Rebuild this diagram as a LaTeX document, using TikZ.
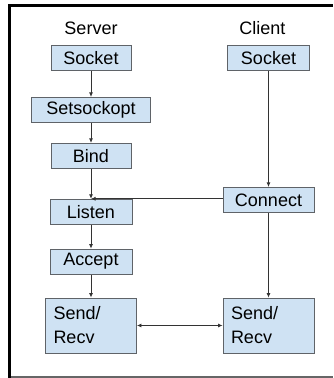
\documentclass[tikz,border=0pt]{standalone}
\usepackage{fontspec}
\setmainfont{Liberation Sans}
\usetikzlibrary{positioning, arrows.meta}

\definecolor{boxfill}{HTML}{CFE2F3}
\definecolor{boxline}{HTML}{5F6368}
\definecolor{arrline}{HTML}{333333}

\begin{document}
\begin{tikzpicture}[x=1pt, y=1pt,
  step box/.style={draw=boxline, fill=boxfill, line width=0.9pt, inner sep=0pt,
                minimum height=25pt, font=\fontsize{18}{22}\selectfont},
  io box/.style={step box, minimum width=91pt, minimum height=55pt, text width=75pt,
                align=left, font=\fontsize{18}{24}\selectfont},
  head/.style={font=\fontsize{18}{22}\selectfont, inner sep=0pt},
  arr/.style={-{Latex[length=4.5pt, width=4pt]}, line width=0.8pt, color=arrline},
]
\useasboundingbox (0,0) rectangle (333,-378);

% Frame
\draw[line width=3pt] (8,-5.5) -- (333,-5.5);
\draw[line width=3pt] (9.5,-4) -- (9.5,-378);
\draw[line width=1.2pt, color=black!60] (11,-377) -- (333,-377);

% Server column
\node[step box, minimum width=80pt] (sSocket) at (91,-58) {Socket};
\node[step box, minimum width=119pt, below=26pt of sSocket] (sSetsock) {Setsockopt};
\node[step box, minimum width=80pt, below=20pt of sSetsock] (sBind) {Bind};
\node[step box, minimum width=82pt, below=30pt of sBind] (sListen) {Listen};
\node[step box, minimum width=82pt, below=24pt of sListen] (sAccept) {Accept};
\node[io box, below=23pt of sAccept] (sSend) {Send/\\Recv};

% Client column
\node[step box, minimum width=82pt] (cSocket) at (268.5,-58) {Socket};
\node[step box, minimum width=91pt, below=116pt of cSocket] (cConnect) {Connect};
\node[io box] (cSend) at (cConnect |- sSend) {Send/\\Recv};

% Headings
\node[head] (srvHead) at (91,-28) {Server};
\node[head] (cliHead) at (262.5,-28) {Client};

% Arrows
\draw[arr] (sSocket) -- (sSetsock);
\draw[arr] (sSetsock) -- (sBind);
\draw[arr] (sBind) -- (sListen);
\draw[arr] (sListen) -- (sAccept);
\draw[arr] (sAccept) -- (sSend);
\draw[arr] (cSocket) -- (cConnect);
\draw[arr] (cConnect) -- (cSend);
\draw[arr] (cConnect.west |- sListen.north) -- (sListen.north);
\draw[arr, {Latex[length=4.5pt, width=4pt]}-{Latex[length=4.5pt, width=4pt]}] (sSend) -- (cSend);

\end{tikzpicture}
\end{document}
